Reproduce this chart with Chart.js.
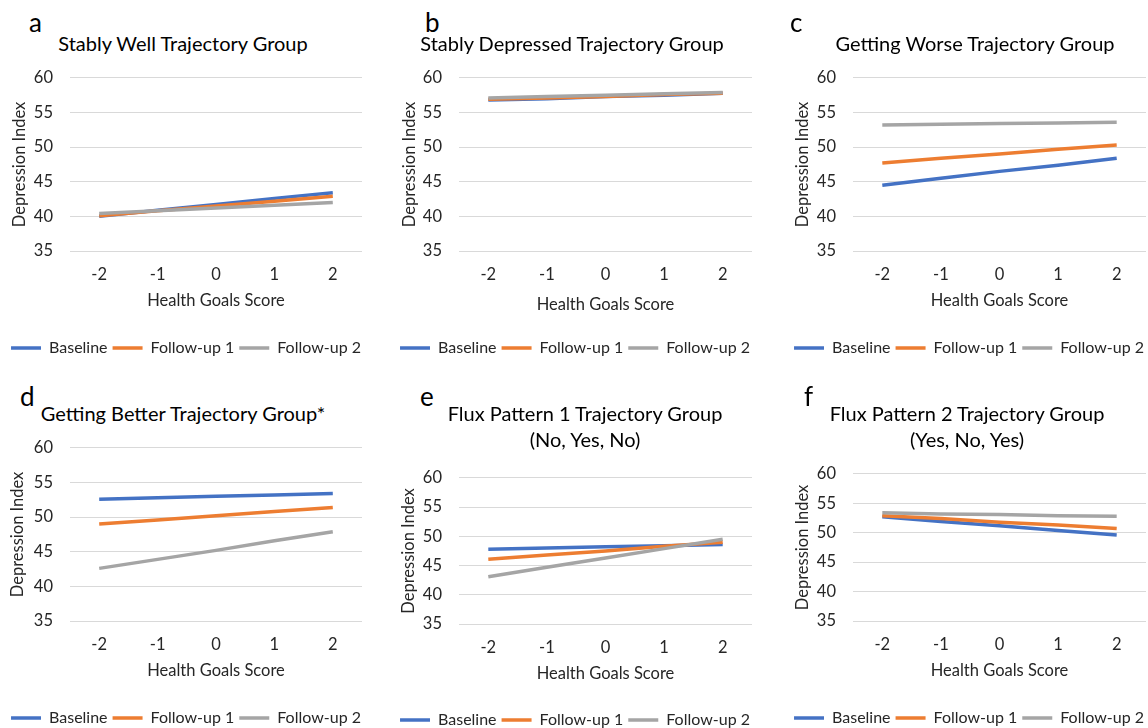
<!DOCTYPE html>
<html>
<head>
<meta charset="utf-8">
<script src="https://cdn.jsdelivr.net/npm/chart.js@4.4.1/dist/chart.umd.min.js"></script>
<style>
  html, body { margin: 0; padding: 0; background: #fff; overflow: hidden; width: 1148px; height: 728px; }
  canvas { position: absolute; }
  .letter { position: absolute; font-family: Lato, sans-serif; font-size: 26px; line-height: 26px; color: #000; }
  .title { position: absolute; width: 440px; text-align: center; font-family: Lato, sans-serif;
           font-size: 20px; line-height: 26px; color: #000; white-space: nowrap; }
</style>
</head>
<body>
<script>
// data
const scores = ['-2', '-1', '0', '1', '2'];
const seriesNames = ['Baseline', 'Follow-up 1', 'Follow-up 2'];
const yTicks = [35, 40, 45, 50, 55, 60];
const panelLetters = ['a', 'b', 'c', 'd', 'e', 'f'];
const panelTitles = [
  ['Stably Well Trajectory Group'],
  ['Stably Depressed Trajectory Group'],
  ['Getting Worse Trajectory Group'],
  ['Getting Better Trajectory Group*'],
  ['Flux Pattern 1 Trajectory Group', '(No, Yes, No)'],
  ['Flux Pattern 2 Trajectory Group', '(Yes, No, Yes)']
];

const wellBaseline = [40.0, 40.9, 41.7, 42.6, 43.4];
const wellFollowUp1 = [40.1, 40.8, 41.5, 42.2, 42.9];
const wellFollowUp2 = [40.4, 40.8, 41.2, 41.6, 42.0];

const depressedBaseline = [56.8, 57.0, 57.3, 57.5, 57.8];
const depressedFollowUp1 = [56.9, 57.1, 57.3, 57.6, 57.8];
const depressedFollowUp2 = [57.1, 57.3, 57.5, 57.7, 57.9];

const worseBaseline = [44.5, 45.5, 46.5, 47.4, 48.4];
const worseFollowUp1 = [47.7, 48.4, 49.0, 49.7, 50.3];
const worseFollowUp2 = [53.2, 53.3, 53.4, 53.5, 53.6];

const betterBaseline = [52.6, 52.8, 53.0, 53.2, 53.4];
const betterFollowUp1 = [49.0, 49.6, 50.2, 50.8, 51.4];
const betterFollowUp2 = [42.6, 43.9, 45.2, 46.6, 47.9];

const flux1Baseline = [47.8, 48.0, 48.2, 48.4, 48.6];
const flux1FollowUp1 = [46.1, 46.8, 47.5, 48.3, 49.0];
const flux1FollowUp2 = [43.1, 44.7, 46.3, 47.9, 49.5];

const flux2Baseline = [52.7, 51.9, 51.2, 50.4, 49.6];
const flux2FollowUp1 = [52.9, 52.4, 51.8, 51.3, 50.7];
const flux2FollowUp2 = [53.4, 53.2, 53.1, 52.9, 52.8];

const panelSeries = [
  [wellBaseline, wellFollowUp1, wellFollowUp2],
  [depressedBaseline, depressedFollowUp1, depressedFollowUp2],
  [worseBaseline, worseFollowUp1, worseFollowUp2],
  [betterBaseline, betterFollowUp1, betterFollowUp2],
  [flux1Baseline, flux1FollowUp1, flux1FollowUp2],
  [flux2Baseline, flux2FollowUp1, flux2FollowUp2]
];

const colors = ['#4472C4', '#ED7D31', '#A5A5A5'];

// where each panel sits on the page
// (chart area top = canvas top + half tick label + tick padding, ~27px)
const layouts = [
  { left: 0,   top: 51,  width: 372, height: 315, yW: 70, yPad: 10, rW: 10, xH: 84, xPad: 24.1,
    letterX: 29, letterY: 9, titleX: 183, titleY: 30 },
  { left: 390, top: 51,  width: 370, height: 315, yW: 69, yPad: 10, rW: 8,  xH: 84, xPad: 20.1,
    letterX: 425, letterY: 9, titleX: 572, titleY: 30 },
  { left: 784, top: 51,  width: 370, height: 315, yW: 69, yPad: 9,  rW: 8,  xH: 84, xPad: 24.1,
    letterX: 790, letterY: 9, titleX: 975, titleY: 30 },
  { left: 0,   top: 421, width: 372, height: 315, yW: 70, yPad: 8,  rW: 10, xH: 84, xPad: 24.1,
    letterX: 20, letterY: 383, titleX: 183, titleY: 400 },
  { left: 390, top: 451, width: 370, height: 287, yW: 69, yPad: 9,  rW: 8,  xH: 83, xPad: 23.1,
    letterX: 420, letterY: 383, titleX: 585, titleY: 400 },
  { left: 784, top: 447, width: 370, height: 289, yW: 69, yPad: 9,  rW: 8,  xH: 84, xPad: 24.1,
    letterX: 804, letterY: 383, titleX: 967, titleY: 400 }
];

Chart.defaults.font.family = 'Lato, sans-serif';
Chart.defaults.color = '#262626';

function makePanel(i) {
  const L = layouts[i];

  const letter = document.createElement('div');
  letter.className = 'letter';
  letter.style.left = L.letterX + 'px';
  letter.style.top = L.letterY + 'px';
  letter.textContent = panelLetters[i];
  document.body.appendChild(letter);

  const title = document.createElement('div');
  title.className = 'title';
  title.style.left = (L.titleX - 220) + 'px';
  title.style.top = L.titleY + 'px';
  title.innerHTML = panelTitles[i].join('<br>');
  document.body.appendChild(title);

  const canvas = document.createElement('canvas');
  canvas.width = L.width;
  canvas.height = L.height;
  canvas.style.left = L.left + 'px';
  canvas.style.top = L.top + 'px';
  document.body.appendChild(canvas);

  new Chart(canvas.getContext('2d'), {
    type: 'line',
    data: {
      labels: scores,
      datasets: panelSeries[i].map((values, k) => ({
        label: seriesNames[k],
        data: values,
        borderColor: colors[k],
        backgroundColor: colors[k],
        borderWidth: 3.5,
        pointRadius: 0,
        tension: 0,
        fill: false,
        order: 2 - k   // later series drawn on top, like Excel
      }))
    },
    options: {
      responsive: false,
      animation: false,
      devicePixelRatio: 1,
      events: [],
      layout: { padding: 0 },
      plugins: {
        title: { display: false },
        tooltip: { enabled: false },
        legend: {
          position: 'bottom',
          labels: {
            usePointStyle: true,
            pointStyle: 'line',
            pointStyleWidth: 30,
            padding: 5,
            font: { size: 16 },
            color: '#262626',
            sort: (a, b) => a.datasetIndex - b.datasetIndex
          }
        }
      },
      scales: {
        x: {
          type: 'category',
          offset: true,
          grid: { display: false, drawTicks: false },
          border: { display: false },
          ticks: { padding: 14, font: { size: 16.5 }, color: '#262626' },
          title: { display: true, text: 'Health Goals Score', font: { size: 16.5 }, color: '#262626',
                   padding: { top: 0, bottom: L.xPad } },
          afterFit: s => { s.height = L.xH; }
        },
        y: {
          position: 'left',
          min: 35,
          max: 60,
          afterBuildTicks: s => { s.ticks = yTicks.map(v => ({ value: v })); },
          grid: { color: '#D9D9D9', lineWidth: 1, drawTicks: false },
          border: { display: false },
          ticks: { padding: 17, font: { size: 16.5 }, color: '#262626' },
          title: { display: true, text: 'Depression Index', font: { size: 16.5 }, color: '#262626',
                   padding: { top: L.yPad, bottom: 0 } },
          afterFit: s => { s.width = L.yW; }
        },
        yR: {
          type: 'linear',
          position: 'right',
          grid: { display: false },
          border: { display: false },
          ticks: { display: false },
          afterFit: s => { s.width = L.rW; }
        }
      }
    }
  });
}

for (let i = 0; i < layouts.length; i++) makePanel(i);
</script>
</body>
</html>
